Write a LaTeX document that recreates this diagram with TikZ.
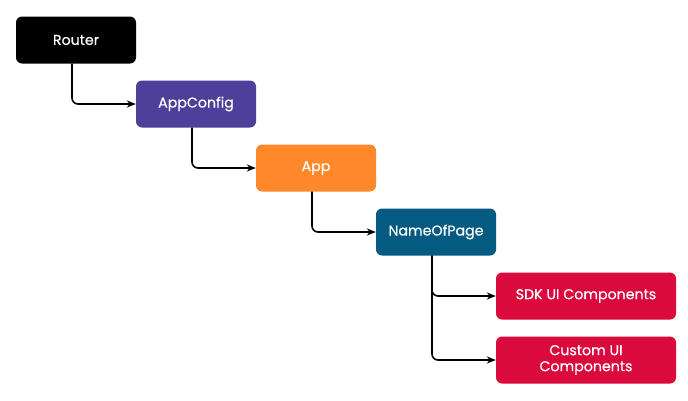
\documentclass[tikz,border=0pt]{standalone}
\usepackage{fontspec}
\setmainfont{Poppins}
\newfontfamily\boxfont{Poppins}[FakeBold=0.6]
\usetikzlibrary{arrows.meta,calc,backgrounds}
\definecolor{cpurple}{HTML}{4E3F9A}
\definecolor{corange}{HTML}{FF882B}
\definecolor{cteal}{HTML}{045A80}
\definecolor{cred}{HTML}{DB0A3C}
\tikzset{
  box/.style={rounded corners=6pt, text=white, align=center, inner sep=0pt,
    font=\boxfont\fontsize{14.2}{16}\selectfont},
  conn/.style={line width=1.6pt, rounded corners=6pt, -{Stealth[length=9pt,width=7pt]}},
  shade/.style={fill=black, opacity=0.04, rounded corners=8pt}
}
\begin{document}
\begin{tikzpicture}[x=1pt,y=-1pt]
\useasboundingbox (0,0) rectangle (688,400);
\fill[white] (0,0) rectangle (688,400);
\node[box, fill=black, minimum width=120pt, minimum height=47pt] (router) at (76,40) {Router};
\node[box, fill=cpurple, minimum width=120pt, minimum height=47pt] (appconfig) at (196,104) {AppConfig};
\node[box, fill=corange, minimum width=120pt, minimum height=47pt] (app) at (316,168) {App};
\node[box, fill=cteal, minimum width=120pt, minimum height=47pt] (page) at (436,232) {NameOfPage};
\node[box, fill=cred, minimum width=180pt, minimum height=47pt] (sdk) at (586,296) {SDK UI Components};
\node[box, fill=cred, minimum width=180pt, minimum height=47pt] (custom) at (586,360) {Custom UI\\Components};
\begin{scope}[on background layer]
\foreach \n in {router,appconfig,app,page,sdk,custom}{
  \foreach \k in {1,2,3,4,5,6}{
    \fill[shade] ($(\n.north west)+(-\k*0.8pt,-\k*0.3pt)$) rectangle ($(\n.south east)+(\k*0.8pt,\k*1.0pt+1pt)$);
  }
}
\end{scope}
\draw[conn] (router.south -| 72,0) |- (appconfig.west);
\draw[conn] (appconfig.south -| 192,0) |- (app.west);
\draw[conn] (app.south -| 312,0) |- (page.west);
\draw[conn] (page.south -| 432,0) |- (sdk.west);
\draw[conn] (page.south -| 432,0) |- (custom.west);
\end{tikzpicture}
\end{document}
